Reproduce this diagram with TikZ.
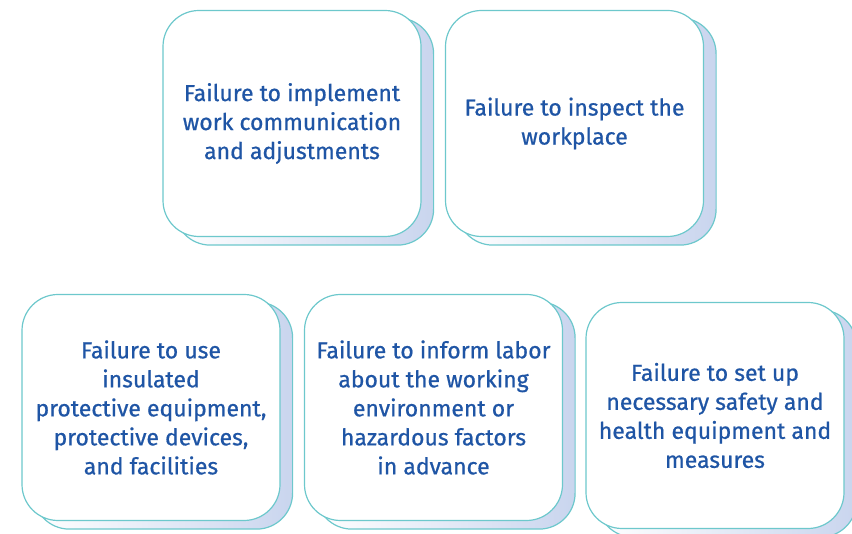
\documentclass[tikz,border=0pt]{standalone}
\usepackage{fontspec}
\setmainfont{Fira Sans}[FakeBold=0.7]
\usepackage{tikz}
\usetikzlibrary{positioning,calc,backgrounds}
\usepackage{xcolor}
\definecolor{cardEdge}{HTML}{6DC8CC}
\definecolor{cardText}{HTML}{1F55A5}
\definecolor{cardBack}{HTML}{C9D5EE}

\tikzset{
  card/.style={draw=cardEdge,line width=1.2pt,fill=white,rounded corners=36pt,
    minimum width=258pt,minimum height=226pt,align=center,text=cardText,
    font=\fontsize{23}{29}\selectfont},
  backcard/.style={draw=cardEdge,line width=1.2pt,rounded corners=36pt,
    left color=white,right color=cardBack}
}

\begin{document}
\begin{tikzpicture}[x=1pt,y=-1pt]
  \useasboundingbox (0,0) rectangle (852,534);
  % top row
  \node[card] (comm) at (292,123.5) {Failure to implement\\work communication\\and adjustments};
  \node[card] (inspect) at (574.5,123.5) {Failure to inspect the\\workplace};
  % bottom row
  \node[card] (insul) at (151,407.5) {Failure to use\\insulated\\protective equipment,\\protective devices,\\and facilities};
  \node[card] (inform) at (433.5,407.5) {Failure to inform labor\\about the working\\environment or\\hazardous factors\\in advance};
  \node[card] (setup) at (715,415.5) {Failure to set up\\necessary safety and\\health equipment and\\measures};
  % offset backs
  \begin{scope}[on background layer]
    \foreach \c in {comm,inspect,insul,inform,setup}
      \draw[backcard] ($(\c.north west)+(12,8)$) rectangle ($(\c.south east)+(12,8)$);
  \end{scope}
\end{tikzpicture}
\end{document}
